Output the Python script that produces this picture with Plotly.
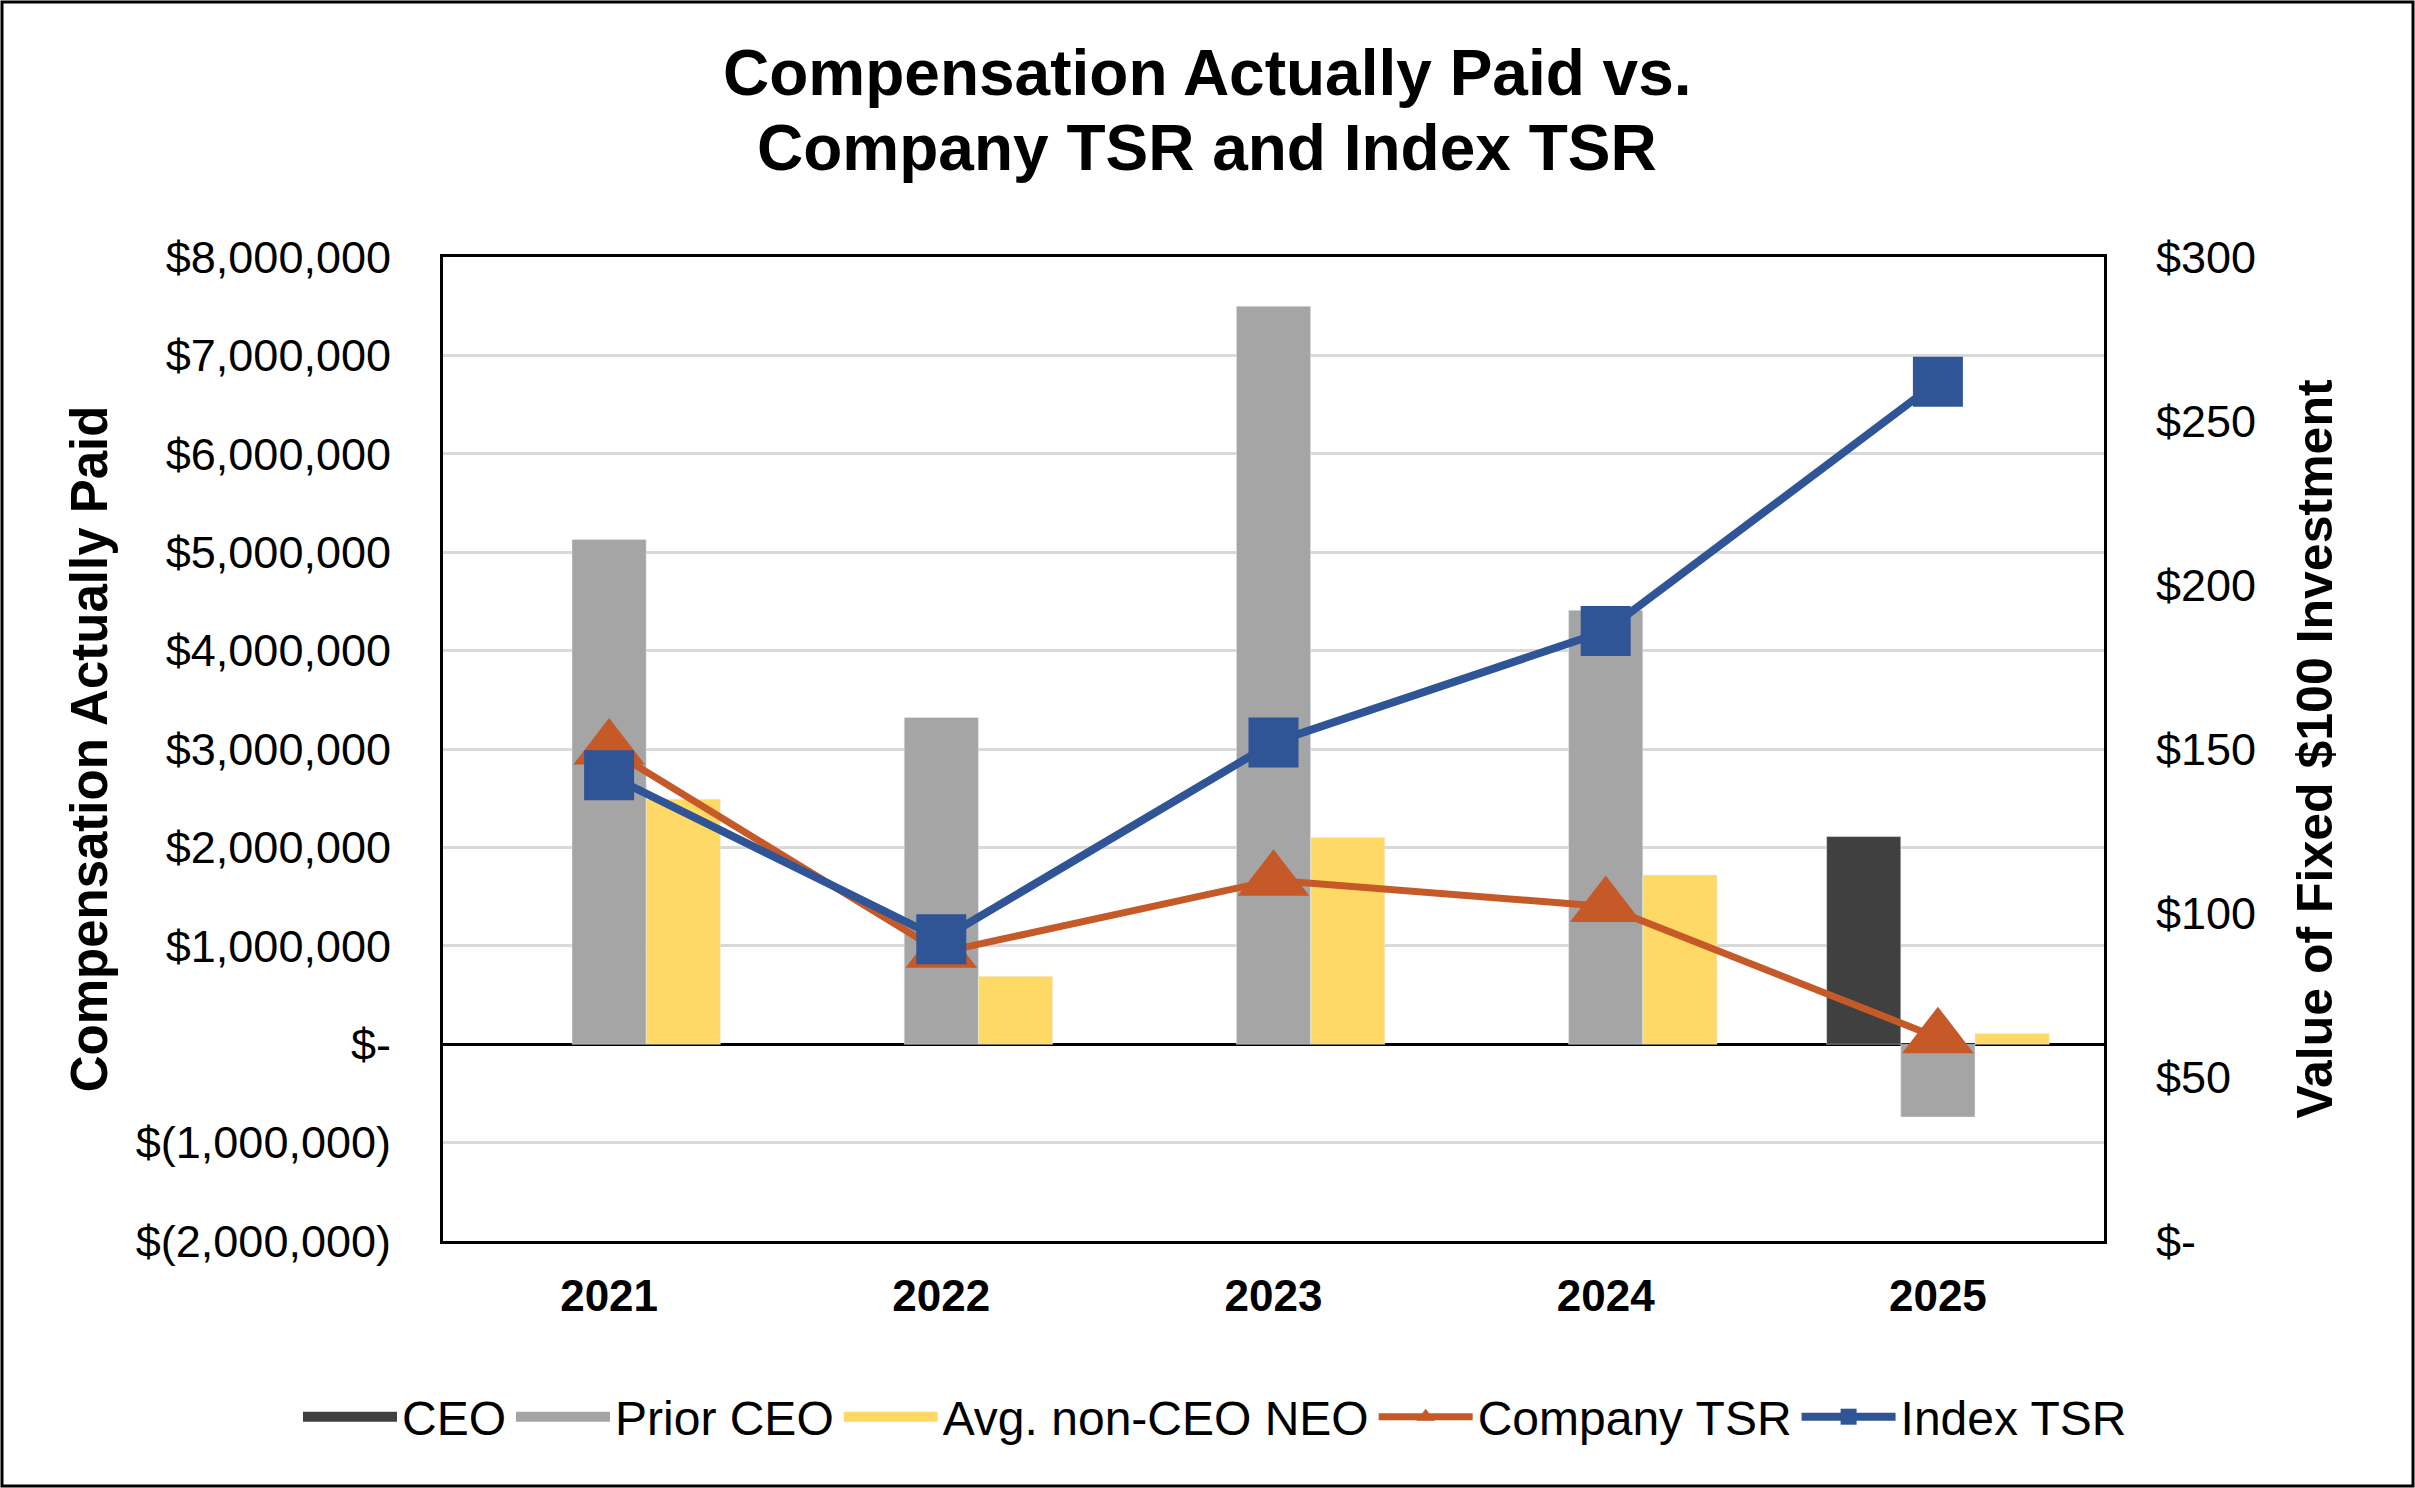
import plotly.graph_objects as go

years = ["2021", "2022", "2023", "2024", "2025"]
ceo = [None, None, None, None, 2110000]
prior_ceo = [5130000, 3320000, 7500000, 4410000, -740000]
avg_neo = [2490000, 690000, 2100000, 1720000, 110000]
company_tsr = [150, 88, 110, 102, 62]
index_tsr = [142, 92, 152, 186, 262]

left_tickvals = [-2000000, -1000000, 0, 1000000, 2000000, 3000000, 4000000,
                 5000000, 6000000, 7000000, 8000000]
left_ticktext = ["$(2,000,000)", "$(1,000,000)", "$-", "$1,000,000", "$2,000,000",
                 "$3,000,000", "$4,000,000", "$5,000,000", "$6,000,000",
                 "$7,000,000", "$8,000,000"]
right_tickvals = [0, 50, 100, 150, 200, 250, 300]
right_ticktext = ["$-", "$50", "$100", "$150", "$200", "$250", "$300"]

C_CEO, C_PRIOR, C_AVG = "#404040", "#A5A5A5", "#FFD966"
C_COMP, C_IDX = "#C55A28", "#2F5597"

W, H = 2415, 1488
ML, MR, MT, MB = 443, 311, 257, 247
PW, PH = W - ML - MR, H - MT - MB
FONT = "Liberation Sans, Arial, sans-serif"

fig = go.Figure()
# bars (legend entries shown by wide-swatch legend-only entries below)
fig.add_trace(go.Bar(x=years, y=ceo, name="CEO", marker_color=C_CEO, yaxis="y",
                     showlegend=False, legendgroup="ceo"))
fig.add_trace(go.Bar(x=years, y=prior_ceo, name="Prior CEO", marker_color=C_PRIOR, yaxis="y",
                     showlegend=False, legendgroup="prior"))
fig.add_trace(go.Bar(x=years, y=avg_neo, name="Avg. non-CEO NEO", marker_color=C_AVG, yaxis="y",
                     showlegend=False, legendgroup="avg"))
for nm, col, grp in [("CEO", C_CEO, "ceo"), ("Prior CEO", C_PRIOR, "prior"),
                     ("Avg. non-CEO NEO", C_AVG, "avg")]:
    fig.add_trace(go.Scatter(x=[None], y=[None], name=nm, mode="lines",
                             line=dict(color=col, width=26), legendgroup=grp,
                             hoverinfo="skip"))
fig.add_trace(go.Scatter(x=years, y=company_tsr, name="Company TSR", mode="lines+markers",
                         line=dict(color=C_COMP, width=7),
                         marker=dict(symbol="triangle-up", size=62, color=C_COMP),
                         yaxis="y2"))
fig.add_trace(go.Scatter(x=years, y=index_tsr, name="Index TSR", mode="lines+markers",
                         line=dict(color=C_IDX, width=8),
                         marker=dict(symbol="square", size=50, color=C_IDX),
                         yaxis="y2"))

title_font = dict(family=FONT, size=64, weight="bold", color="black")
fig.update_layout(
    width=W, height=H,
    margin=dict(l=ML, r=MR, t=MT, b=MB),
    paper_bgcolor="white", plot_bgcolor="white",
    font=dict(family=FONT, color="black", size=45),
    barmode="group", bargap=0.33, bargroupgap=0,
    annotations=[
        dict(text="Compensation Actually Paid vs.", xref="paper", yref="paper",
             x=(1207 - ML) / PW, y=(H - 73 - MB) / PH,
             xanchor="center", yanchor="middle", showarrow=False, font=title_font),
        dict(text="Company TSR and Index TSR", xref="paper", yref="paper",
             x=(1207 - ML) / PW, y=(H - 148 - MB) / PH,
             xanchor="center", yanchor="middle", showarrow=False, font=title_font),
    ],
    xaxis=dict(type="category", showgrid=False, showline=True, linecolor="black",
               linewidth=3, mirror=True, ticks="", ticklabelstandoff=14,
               tickfont=dict(family=FONT, size=44, weight="bold")),
    yaxis=dict(range=[-2000000, 8000000], tickvals=left_tickvals, ticktext=left_ticktext,
               showgrid=True, gridcolor="#D9D9D9", gridwidth=3,
               zeroline=True, zerolinecolor="black", zerolinewidth=3,
               showline=True, linecolor="black", linewidth=3, mirror=True,
               ticks="", ticklabelstandoff=40, tickfont=dict(size=45),
               title=dict(text="Compensation Actually Paid", standoff=12,
                          font=dict(family=FONT, size=51, weight="bold"))),
    yaxis2=dict(range=[0, 300], tickvals=right_tickvals, ticktext=right_ticktext,
                overlaying="y", side="right", showgrid=False, zeroline=False,
                showline=True, linecolor="black", linewidth=3,
                ticks="", ticklabelstandoff=40, tickfont=dict(size=45),
                title=dict(text="Value of Fixed $100 Investment", standoff=42,
                           font=dict(family=FONT, size=50, weight="bold"))),
    legend=dict(orientation="h", xref="paper", yref="paper",
                x=(298 - ML) / PW, xanchor="left",
                y=(H - MB - 1417) / PH, yanchor="middle",
                bgcolor="rgba(0,0,0,0)",
                font=dict(family=FONT, size=48), itemwidth=94,
                traceorder="normal"),
    showlegend=True,
    shapes=[dict(type="rect", xref="paper", yref="paper",
                 x0=-(ML - 2) / PW, x1=1 + (MR - 2) / PW,
                 y0=-(MB - 2) / PH, y1=1 + (MT - 2) / PH,
                 line=dict(color="black", width=3), fillcolor="rgba(0,0,0,0)",
                 layer="below")],
)

fig.write_html("out.html", config={"displayModeBar": False},
               post_script="document.body.style.margin='0';")
